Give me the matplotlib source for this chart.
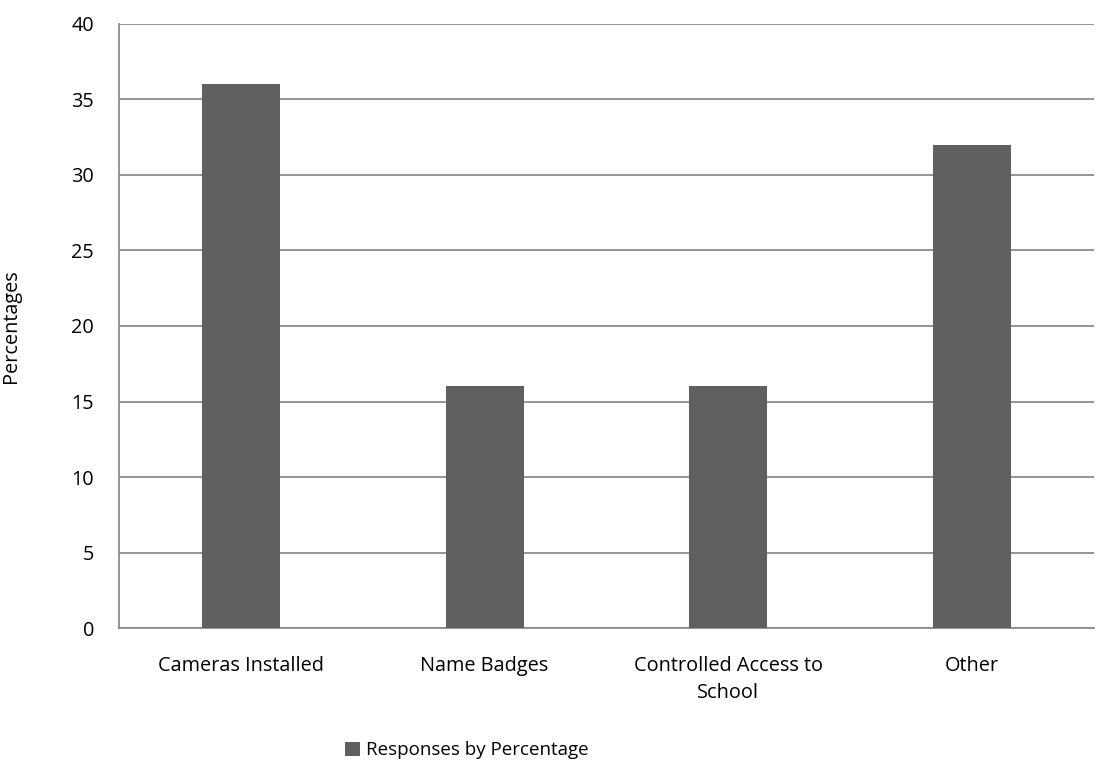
import numpy as np
import matplotlib.pyplot as plt

plt.rcParams['font.family'] = ['Open Sans', 'DejaVu Sans']

categories = ['Cameras Installed', 'Name Badges', 'Controlled Access to\nSchool', 'Other']
percentages = [36, 16, 16, 32]
series_name = 'Responses by Percentage'

fig = plt.figure(figsize=(11.06, 7.64), dpi=100)
ax = fig.add_axes([0.1076, 0.178, 0.8814, 0.7906])

x = np.arange(len(categories))
ax.bar(x, percentages, width=0.32, color='#606060', label=series_name, zorder=3)

ax.set_xlim(-0.5, len(categories) - 0.5)
ax.set_ylim(0, 40)
ax.set_yticks(np.arange(0, 41, 5))
ax.yaxis.grid(True, color='#8c8c8c', linewidth=1.3, zorder=0)

ax.set_xticks(x)
ax.set_xticklabels(categories, fontsize=14.3, linespacing=1.45)
ax.tick_params(axis='both', length=0, labelsize=14.3, colors='black')
ax.tick_params(axis='x', pad=20)
ax.tick_params(axis='y', pad=18)

for side in ['top', 'right']:
    ax.spines[side].set_visible(False)
for side in ['left', 'bottom']:
    ax.spines[side].set_color('#8c8c8c')
    ax.spines[side].set_linewidth(1.3)

ax.set_ylabel('Percentages', fontsize=14.3, labelpad=36)

fig.legend(loc='center', bbox_to_anchor=(0.422, 0.018), frameon=False,
           fontsize=13.5, handlelength=0.8, handleheight=0.8, handletextpad=0.3)

fig.savefig('out.png', dpi=100)
